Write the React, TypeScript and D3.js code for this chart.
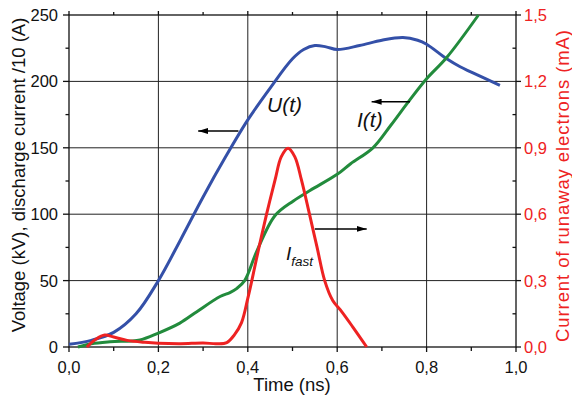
import * as d3 from 'd3';

// time (ns) and values
const uT = [0, 0.05, 0.1, 0.15, 0.2, 0.25, 0.3, 0.35, 0.4, 0.45, 0.5, 0.525, 0.55, 0.575, 0.6, 0.65, 0.7, 0.747, 0.78, 0.8, 0.845, 0.875, 0.9, 0.964];
const uV = [2, 5, 11, 25, 50, 81, 113, 143, 171, 195, 217, 224, 227, 226, 224, 227, 231, 233, 231, 228, 217, 211, 207, 197];

const iT = [0.02, 0.05, 0.092, 0.159, 0.2, 0.248, 0.286, 0.338, 0.36, 0.375, 0.393, 0.42, 0.461, 0.502, 0.54, 0.6, 0.63, 0.68, 0.72, 0.76, 0.8, 0.845, 0.916];
const iV = [0, 2.5, 4, 5.3, 10.5, 18, 26.6, 38, 41, 44, 50, 72, 99, 110, 118, 130, 138, 150, 167, 185, 202, 218, 250];

const fT = [0.04, 0.06, 0.08, 0.1, 0.13, 0.17, 0.2, 0.25, 0.3, 0.33, 0.353, 0.37, 0.386, 0.4, 0.409, 0.425, 0.442, 0.461, 0.475, 0.49, 0.505, 0.52, 0.538, 0.555, 0.572, 0.59, 0.61, 0.635, 0.666];
const fV = [0, 0.035, 0.054, 0.045, 0.03, 0.021, 0.017, 0.015, 0.018, 0.015, 0.02, 0.055, 0.11, 0.22, 0.3, 0.45, 0.6, 0.755, 0.86, 0.898, 0.86, 0.755, 0.6, 0.45, 0.3, 0.21, 0.16, 0.09, 0];

const xTicks = [0, 0.2, 0.4, 0.6, 0.8, 1.0];
const xMinor = [0.1, 0.3, 0.5, 0.7, 0.9];
const yTicks = [0, 50, 100, 150, 200, 250];
const yMinor = [25, 75, 125, 175, 225];
const rTicks = [0, 0.3, 0.6, 0.9, 1.2, 1.5];
const rMinor = [0.15, 0.45, 0.75, 1.05, 1.35];

const W = 572;
const H = 397;
const M = { left: 69, right: 516, top: 15, bottom: 347 };

const BLUE = '#3450a8';
const GREEN = '#228b3c';
const RED = '#ee2222';
const FONT = 'Liberation Sans, Arial, sans-serif';
const TICK_FS = 16.5;

export default function App() {
  const x = d3.scaleLinear().domain([0, 1]).range([M.left, M.right]);
  const y = d3.scaleLinear().domain([0, 250]).range([M.bottom, M.top]);
  const yr = d3.scaleLinear().domain([0, 1.5]).range([M.bottom, M.top]);

  const line = d3
    .line<[number, number]>()
    .x((d) => x(d[0]))
    .y((d) => y(d[1]))
    .curve(d3.curveCatmullRom.alpha(0.5));
  const lineR = d3
    .line<[number, number]>()
    .x((d) => x(d[0]))
    .y((d) => yr(d[1]))
    .curve(d3.curveCatmullRom.alpha(0.5));

  const uPath = line(uT.map((t, i) => [t, uV[i]]));
  const iPath = line(iT.map((t, i) => [t, iV[i]]));
  const fPath = lineR(fT.map((t, i) => [t, fV[i]]));
  const fmt = (v: number) => v.toFixed(1).replace('.', ',');

  // arrows: [tail t, tip t, value on left axis]
  const arrows: [number, number, number][] = [
    [0.379, 0.289, 162.7],
    [0.763, 0.677, 184.7],
    [0.55, 0.666, 88.9],
  ];

  return (
    <div style={{ position: 'absolute', left: 0, top: 0 }}>
      <svg width={W} height={H} style={{ display: 'block', background: '#fff' }} fontFamily={FONT}>
        <defs>
          <marker id="ah" viewBox="0 0 10 6" refX="10" refY="3" markerWidth="10" markerHeight="6" markerUnits="userSpaceOnUse" orient="auto">
            <path d="M0,0 L10,3 L0,6 Z" fill="#000" />
          </marker>
        </defs>

        {/* grid */}
        {xTicks.slice(1, -1).map((t) => (
          <line key={'gx' + t} x1={x(t)} x2={x(t)} y1={M.top} y2={M.bottom} stroke="#222" strokeWidth={1} />
        ))}
        {yTicks.slice(1, -1).map((v) => (
          <line key={'gy' + v} x1={M.left} x2={M.right} y1={y(v)} y2={y(v)} stroke="#222" strokeWidth={1} />
        ))}

        {/* frame */}
        <rect x={M.left} y={M.top} width={M.right - M.left} height={M.bottom - M.top} fill="none" stroke="#111" strokeWidth={1.3} />

        {/* bottom / top ticks */}
        {xTicks.map((t) => (
          <g key={'xt' + t}>
            <line x1={x(t)} x2={x(t)} y1={M.bottom} y2={M.bottom + 5} stroke="#111" strokeWidth={1.3} />
            <line x1={x(t)} x2={x(t)} y1={M.top} y2={M.top - 4} stroke="#111" strokeWidth={1.3} />
            <text x={x(t)} y={373} fontSize={TICK_FS} textAnchor="middle" fill="#111">{fmt(t)}</text>
          </g>
        ))}
        {xMinor.map((t) => (
          <g key={'xm' + t}>
            <line x1={x(t)} x2={x(t)} y1={M.bottom} y2={M.bottom + 4} stroke="#111" strokeWidth={1.3} />
            <line x1={x(t)} x2={x(t)} y1={M.top} y2={M.top - 3} stroke="#111" strokeWidth={1.3} />
          </g>
        ))}

        {/* left axis */}
        {yTicks.map((v) => (
          <g key={'yt' + v}>
            <line x1={M.left - 6} x2={M.left} y1={y(v)} y2={y(v)} stroke="#111" strokeWidth={1.3} />
            <text x={M.left - 11} y={y(v) + 6} fontSize={TICK_FS} textAnchor="end" fill="#111">{v}</text>
          </g>
        ))}
        {yMinor.map((v) => (
          <line key={'ym' + v} x1={M.left - 3.5} x2={M.left} y1={y(v)} y2={y(v)} stroke="#111" strokeWidth={1.3} />
        ))}

        {/* right axis */}
        {rTicks.map((v) => (
          <g key={'rt' + v}>
            <line x1={M.right} x2={M.right + 5} y1={yr(v)} y2={yr(v)} stroke="#111" strokeWidth={1.3} />
            <text x={M.right + 8} y={yr(v) + 6} fontSize={TICK_FS} textAnchor="start" fill={RED}>{fmt(v)}</text>
          </g>
        ))}
        {rMinor.map((v) => (
          <line key={'rm' + v} x1={M.right - 3.5} x2={M.right} y1={yr(v)} y2={yr(v)} stroke="#111" strokeWidth={1.3} />
        ))}

        {/* axis titles */}
        <text x={292} y={391} fontSize={18.5} textAnchor="middle" fill="#111">Time (ns)</text>
        <text transform={`translate(25,175) rotate(-90)`} fontSize={18.5} textAnchor="middle" fill="#111">
          Voltage (kV), discharge current /10 (A)
        </text>
        <text
          transform={`translate(569,186) rotate(-90)`}
          fontSize={18.5}
          textAnchor="middle"
          fill={RED}
          textLength={312}
          lengthAdjust="spacing"
        >
          Current of runaway electrons (mA)
        </text>

        {/* curves */}
        <path d={uPath ?? ''} fill="none" stroke={BLUE} strokeWidth={3} />
        <path d={iPath ?? ''} fill="none" stroke={GREEN} strokeWidth={3} />
        <path d={fPath ?? ''} fill="none" stroke={RED} strokeWidth={3} />

        {/* arrows */}
        {arrows.map(([a, b, v], i) => (
          <line key={'ar' + i} x1={x(a)} x2={x(b)} y1={y(v)} y2={y(v)} stroke="#000" strokeWidth={1.4} markerEnd="url(#ah)" />
        ))}

        {/* curve labels */}
        <text x={267} y={112} fontSize={21} fontStyle="italic" fill="#111">U(t)</text>
        <text x={357} y={127} fontSize={21} fontStyle="italic" fill="#111">I(t)</text>
        <text x={286} y={260} fontSize={19} fontStyle="italic" fill="#111">
          I<tspan fontSize={13.5} dy={6}>fast</tspan>
        </text>
      </svg>
    </div>
  );
}
